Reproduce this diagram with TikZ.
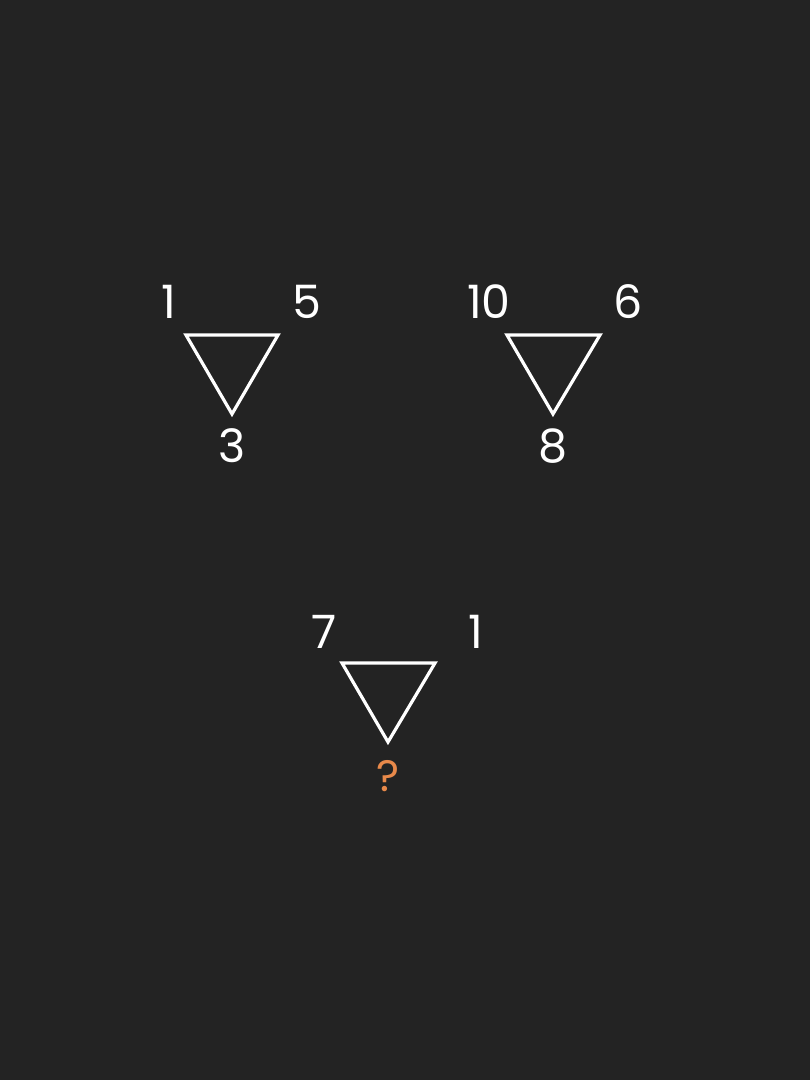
\documentclass[tikz,border=0pt]{standalone}
\usepackage{fontspec}
\setmainfont{Poppins}
\definecolor{boarddark}{RGB}{35,35,35}
\definecolor{askorange}{RGB}{232,137,74}

\begin{document}
\begin{tikzpicture}[x=1pt,y=-1pt,
  num/.style={text=white,inner sep=0pt,font=\fontsize{46}{46}\selectfont},
  ask/.style={num,text=askorange,font=\fontsize{44}{44}\selectfont},
  tri/.style={draw=white,line width=3.2pt,line join=miter}]
  \fill[boarddark] (0,0) rectangle (810,1080);
  \useasboundingbox (0,0) rectangle (810,1080);
  % first triangle
  \coordinate (ta1) at (186,335);
  \coordinate (tb1) at (278,335);
  \coordinate (tc1) at (232,414);
  \draw[tri] (ta1) -- (tb1) -- (tc1) -- cycle;
  \node[num] (left1) at (169,302) {1};
  \node[num] (right1) at (307,302) {5};
  \node[num] (bottom1) at (232,446) {3};
  % second triangle
  \coordinate (ta2) at (507,335);
  \coordinate (tb2) at (600,335);
  \coordinate (tc2) at (553,414);
  \draw[tri] (ta2) -- (tb2) -- (tc2) -- cycle;
  \node[num] (left2) at (489,302) {10};
  \node[num] (right2) at (628,302) {6};
  \node[num] (bottom2) at (553,446) {8};
  % third triangle
  \coordinate (ta3) at (342,663);
  \coordinate (tb3) at (435,663);
  \coordinate (tc3) at (388,742);
  \draw[tri] (ta3) -- (tb3) -- (tc3) -- cycle;
  \node[num] (left3) at (324,632) {7};
  \node[num] (right3) at (476,632) {1};
  \node[ask] (bottom3) at (388,776) {?};
\end{tikzpicture}
\end{document}
